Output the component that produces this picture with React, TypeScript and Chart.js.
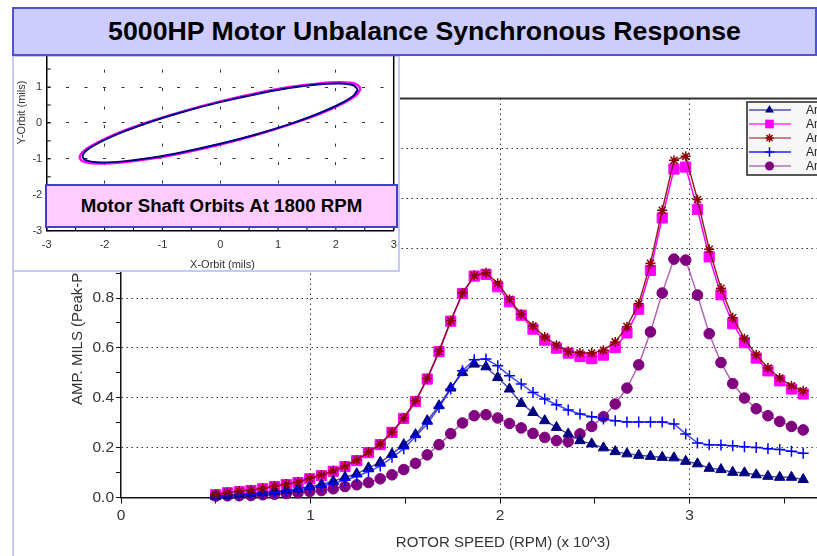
import React, { useEffect, useRef } from "react";
import { Chart, registerables } from "chart.js";

Chart.register(...registerables);

const FONT = "'Liberation Sans', Arial, Helvetica, sans-serif";

// ---- main chart data (rotor speed in x 10^3 RPM, amplitude in mils peak-peak)
const speedKrpm = [
  0.5, 0.562, 0.624, 0.686, 0.748, 0.81, 0.872, 0.934, 0.996, 1.058, 1.12, 1.182, 1.244,
  1.306, 1.368, 1.43, 1.492, 1.554, 1.616, 1.678, 1.74, 1.802, 1.864, 1.926, 1.988, 2.05,
  2.112, 2.174, 2.236, 2.298, 2.36, 2.422, 2.484, 2.546, 2.608, 2.67, 2.732, 2.794, 2.856,
  2.918, 2.98, 3.042, 3.104, 3.166, 3.228, 3.29, 3.352, 3.414, 3.476, 3.538, 3.6,
];

const ampTriangle = [
  0.005, 0.008, 0.012, 0.015, 0.019, 0.024, 0.029, 0.035, 0.044, 0.052, 0.065, 0.081, 0.095,
  0.119, 0.141, 0.174, 0.212, 0.252, 0.308, 0.368, 0.439, 0.501, 0.535, 0.524, 0.481, 0.435,
  0.377, 0.341, 0.308, 0.281, 0.255, 0.228, 0.215, 0.199, 0.184, 0.175, 0.169, 0.165, 0.161,
  0.159, 0.145, 0.135, 0.117, 0.112, 0.101, 0.099, 0.091, 0.085, 0.081, 0.081, 0.072,
];

const ampSquare = [
  0.011, 0.019, 0.024, 0.028, 0.035, 0.044, 0.052, 0.06, 0.075, 0.088, 0.105, 0.124, 0.148,
  0.18, 0.212, 0.261, 0.317, 0.385, 0.475, 0.585, 0.707, 0.818, 0.888, 0.895, 0.845, 0.785,
  0.731, 0.675, 0.631, 0.599, 0.579, 0.565, 0.557, 0.571, 0.601, 0.66, 0.755, 0.911, 1.121,
  1.317, 1.325, 1.155, 0.965, 0.813, 0.697, 0.621, 0.559, 0.508, 0.468, 0.435, 0.415,
];

const ampStar = [
  0.013, 0.021, 0.026, 0.03, 0.037, 0.046, 0.054, 0.062, 0.077, 0.09, 0.107, 0.126, 0.15,
  0.182, 0.214, 0.263, 0.319, 0.387, 0.477, 0.586, 0.709, 0.82, 0.89, 0.901, 0.859, 0.795,
  0.735, 0.688, 0.644, 0.611, 0.585, 0.579, 0.579, 0.59, 0.624, 0.685, 0.777, 0.939, 1.152,
  1.352, 1.368, 1.195, 0.995, 0.839, 0.721, 0.637, 0.572, 0.519, 0.479, 0.448, 0.428,
];

const ampCross = [
  0.004, 0.007, 0.01, 0.013, 0.016, 0.02, 0.025, 0.03, 0.038, 0.045, 0.056, 0.07, 0.084,
  0.104, 0.126, 0.161, 0.195, 0.245, 0.295, 0.361, 0.435, 0.508, 0.552, 0.555, 0.528, 0.488,
  0.455, 0.421, 0.395, 0.372, 0.351, 0.335, 0.324, 0.315, 0.308, 0.303, 0.303, 0.303, 0.303,
  0.295, 0.255, 0.219, 0.212, 0.211, 0.208, 0.204, 0.201, 0.195, 0.192, 0.185, 0.177,
];

const ampCircle = [
  0.006, 0.007, 0.007, 0.008, 0.011, 0.013, 0.016, 0.019, 0.024, 0.028, 0.035, 0.044, 0.051,
  0.06, 0.075, 0.091, 0.112, 0.137, 0.171, 0.212, 0.256, 0.299, 0.328, 0.332, 0.319, 0.297,
  0.279, 0.257, 0.241, 0.228, 0.224, 0.255, 0.285, 0.324, 0.375, 0.439, 0.532, 0.664, 0.82,
  0.956, 0.952, 0.812, 0.657, 0.541, 0.457, 0.399, 0.356, 0.328, 0.305, 0.285, 0.271,
];

const seriesLabels = [
  "Amp - Probe 1",
  "Amp - Probe 2",
  "Amp - Probe 3",
  "Amp - Probe 4",
  "Amp - Probe 5",
];

// ---- inset orbit data (mils)
const orbitNavyX = [
  2.38, 2.3, 2.06, 1.68, 1.19, 0.62, 0, -0.62, -1.19, -1.68, -2.06, -2.3, -2.38, -2.3, -2.06,
  -1.68, -1.19, -0.62, 0, 0.62, 1.19, 1.68, 2.06, 2.3, 2.38,
];
const orbitNavyY = [
  0.93, 1.05, 1.1, 1.07, 0.97, 0.8, 0.58, 0.32, 0.04, -0.25, -0.52, -0.75, -0.93, -1.05, -1.1,
  -1.07, -0.97, -0.8, -0.58, -0.32, -0.04, 0.25, 0.52, 0.75, 0.93,
];
const orbitMagentaX = [
  2.43, 2.35, 2.1, 1.72, 1.21, 0.63, 0, -0.63, -1.21, -1.72, -2.1, -2.35, -2.43, -2.35, -2.1,
  -1.72, -1.21, -0.63, 0, 0.63, 1.21, 1.72, 2.1, 2.35, 2.43,
];
const orbitMagentaY = [
  0.96, 1.08, 1.13, 1.1, 1.0, 0.83, 0.6, 0.33, 0.04, -0.25, -0.53, -0.77, -0.96, -1.08, -1.13,
  -1.1, -1.0, -0.83, -0.6, -0.33, -0.04, 0.25, 0.53, 0.77, 0.96,
];
const insetXTicks = [-3, -2, -1, 0, 1, 2, 3];

const chartTitle = "5000HP Motor Unbalance Synchronous Response";
const insetCaption = "Motor Shaft Orbits At 1800 RPM";
const xAxisTitle = "ROTOR SPEED (RPM) (x 10^3)";
const yAxisTitle = "AMP. MILS (Peak-Peak)";
const insetXTitle = "X-Orbit (mils)";
const insetYTitle = "Y-Orbit (mils)";

const seriesValues = [ampTriangle, ampSquare, ampStar, ampCross, ampCircle];

const seriesStyles = [
  { pointStyle: "triangle", radius: 6, marker: "#000080", line: "rgba(0,0,128,0.7)", legendLine: "#4858a0", order: 3, filled: true },
  { pointStyle: "rect", radius: 7.2, marker: "#ff00ff", line: "#ff00ff", legendLine: "#ff33ff", order: 5, filled: true },
  { pointStyle: "star", radius: 5, marker: "#8b0000", line: "rgba(128,0,0,0.85)", legendLine: "#b06060", order: 1, filled: false },
  { pointStyle: "cross", radius: 5.5, marker: "#0000ff", line: "rgba(0,0,255,0.7)", legendLine: "#2020ff", order: 2, filled: false },
  { pointStyle: "circle", radius: 5.3, marker: "#800080", line: "rgba(128,0,128,0.6)", legendLine: "#b070b8", order: 4, filled: true },
];

function drawMarker(ctx: CanvasRenderingContext2D, style: string, x: number, y: number, r: number, color: string) {
  ctx.save();
  ctx.fillStyle = color;
  ctx.strokeStyle = color;
  ctx.lineWidth = 1.5;
  ctx.beginPath();
  if (style === "triangle") {
    const a = (2 * Math.PI) / 3;
    ctx.moveTo(x, y - r);
    ctx.lineTo(x + Math.sin(a) * r, y - Math.cos(a) * r);
    ctx.lineTo(x + Math.sin(2 * a) * r, y - Math.cos(2 * a) * r);
    ctx.closePath();
    ctx.fill();
  } else if (style === "rect") {
    const s = r * Math.SQRT1_2;
    ctx.rect(x - s, y - s, 2 * s, 2 * s);
    ctx.fill();
  } else if (style === "circle") {
    ctx.arc(x, y, r, 0, Math.PI * 2);
    ctx.fill();
  } else if (style === "cross") {
    ctx.moveTo(x, y - r);
    ctx.lineTo(x, y + r);
    ctx.moveTo(x - r, y);
    ctx.lineTo(x + r, y);
    ctx.stroke();
  } else if (style === "star") {
    const d = r * Math.SQRT1_2;
    ctx.moveTo(x, y - r);
    ctx.lineTo(x, y + r);
    ctx.moveTo(x - r, y);
    ctx.lineTo(x + r, y);
    ctx.moveTo(x - d, y - d);
    ctx.lineTo(x + d, y + d);
    ctx.moveTo(x - d, y + d);
    ctx.lineTo(x + d, y - d);
    ctx.stroke();
  }
  ctx.restore();
}

const isEvenFifth = (v: number) => Math.round(v * 10) % 2 === 0;

const mainDecor = {
  id: "mainDecor",
  afterDraw(chart: any) {
    const { ctx, chartArea } = chart;
    ctx.save();
    // top frame line
    ctx.strokeStyle = "#333";
    ctx.lineWidth = 2;
    ctx.beginPath();
    ctx.moveTo(chartArea.left, chartArea.top);
    ctx.lineTo(chartArea.right, chartArea.top);
    ctx.stroke();

    // axis titles
    ctx.fillStyle = "#333";
    ctx.font = `15px ${FONT}`;
    ctx.textAlign = "center";
    ctx.textBaseline = "middle";
    ctx.fillText(xAxisTitle, 503, 543);
    ctx.save();
    ctx.translate(77.5, 405);
    ctx.rotate(-Math.PI / 2);
    ctx.textAlign = "left";
    ctx.fillText(yAxisTitle, 0, 0);
    ctx.restore();

    // legend
    const lx = 747;
    const ly = 102;
    ctx.fillStyle = "#f6f6f6";
    ctx.fillRect(lx, ly, 160, 73);
    ctx.strokeStyle = "#222";
    ctx.lineWidth = 1.5;
    ctx.strokeRect(lx, ly, 160, 73);
    seriesStyles.forEach((s, i) => {
      const y = 110 + i * 14;
      ctx.strokeStyle = s.legendLine;
      ctx.lineWidth = 1.5;
      ctx.beginPath();
      ctx.moveTo(749, y);
      ctx.lineTo(791, y);
      ctx.stroke();
      drawMarker(ctx, s.pointStyle, 769.5, y, s.radius * 0.85, s.marker);
      ctx.fillStyle = "#222";
      ctx.font = `12px ${FONT}`;
      ctx.textAlign = "left";
      ctx.textBaseline = "middle";
      ctx.fillText(seriesLabels[i], 806, y + 1);
    });
    ctx.restore();
  },
};

const insetDecor = {
  id: "insetDecor",
  afterDraw(chart: any) {
    const { ctx, chartArea, scales } = chart;
    ctx.save();
    ctx.strokeStyle = "#000";
    ctx.lineWidth = 1.5;
    ctx.beginPath();
    ctx.moveTo(chartArea.right, 0);
    ctx.lineTo(chartArea.right, chartArea.bottom);
    ctx.stroke();
    // inner tick marks every 0.5
    ctx.lineWidth = 1;
    ctx.beginPath();
    for (let v = -3; v <= 3.001; v += 0.5) {
      const px = scales.x.getPixelForValue(v);
      ctx.moveTo(px, chartArea.bottom);
      ctx.lineTo(px, chartArea.bottom - 4);
    }
    for (let v = -3; v <= 2.001; v += 0.5) {
      const py = scales.y.getPixelForValue(v);
      ctx.moveTo(chartArea.left, py);
      ctx.lineTo(chartArea.left + 4, py);
    }
    ctx.stroke();
    // x tick labels
    ctx.fillStyle = "#333";
    ctx.font = `11px ${FONT}`;
    ctx.textAlign = "center";
    ctx.textBaseline = "middle";
    insetXTicks.forEach((v) => {
      ctx.fillText(String(v), scales.x.getPixelForValue(v), chartArea.bottom + 14.5);
    });
    // axis titles
    ctx.fillText(insetXTitle, 208.5, 225);
    ctx.save();
    ctx.translate(8, 72.5);
    ctx.rotate(-Math.PI / 2);
    ctx.fillText(insetYTitle, 0, 0);
    ctx.restore();
    ctx.restore();
  },
};

export default function App() {
  const mainRef = useRef<HTMLCanvasElement>(null);
  const insetRef = useRef<HTMLCanvasElement>(null);

  useEffect(() => {
    const datasets = seriesStyles.map((s, i) => ({
      label: seriesLabels[i],
      data: speedKrpm.map((x, k) => ({ x, y: seriesValues[i][k] })),
      borderColor: s.line,
      backgroundColor: s.marker,
      borderWidth: 1.5,
      pointStyle: s.pointStyle as any,
      pointRadius: s.radius,
      pointBackgroundColor: s.marker,
      pointBorderColor: s.marker,
      pointBorderWidth: s.filled ? 1 : 1.5,
      tension: 0,
      order: s.order,
      clip: 10,
    }));

    const main = new Chart(mainRef.current as HTMLCanvasElement, {
      type: "line",
      data: { datasets },
      options: {
        animation: false,
        responsive: false,
        maintainAspectRatio: false,
        layout: { padding: { left: 0, top: 98.5, right: 21, bottom: 0 } },
        plugins: { legend: { display: false }, tooltip: { enabled: false }, title: { display: false } },
        scales: {
          x: {
            type: "linear",
            min: 0,
            max: 4,
            afterFit: (s: any) => {
              s.height = 58.5;
            },
            ticks: {
              stepSize: 0.5,
              autoSkip: false,
              maxRotation: 0,
              padding: 3,
              color: "#333",
              font: { family: FONT, size: 15.5 },
              callback: (v: any) => (Number.isInteger(Number(v)) ? String(v) : ""),
            },
            grid: {
              color: (c: any) => {
                const v = c.tick ? c.tick.value : 0;
                return Number.isInteger(v) && v !== 0 ? "#333" : "rgba(0,0,0,0)";
              },
              tickColor: "#111",
              tickLength: 6,
              lineWidth: 1,
            },
            border: { color: "#111", width: 1.5, dash: [1.5, 3.5] },
          },
          y: {
            type: "linear",
            min: 0,
            max: 1.6,
            afterFit: (s: any) => {
              s.width = 121;
            },
            ticks: {
              stepSize: 0.1,
              autoSkip: false,
              padding: 2,
              color: "#333",
              font: { family: FONT, size: 15.5 },
              callback: (v: any) => (isEvenFifth(Number(v)) ? Number(v).toFixed(1) : ""),
            },
            grid: {
              color: (c: any) => {
                const v = c.tick ? c.tick.value : 0;
                return isEvenFifth(v) && v > 0.05 && v < 1.55 ? "#333" : "rgba(0,0,0,0)";
              },
              tickColor: "#111",
              tickLength: 5,
              lineWidth: 1,
            },
            border: { color: "#111", width: 1.5, dash: [1.5, 3.5] },
          },
        },
      },
      plugins: [mainDecor],
    });

    const inset = new Chart(insetRef.current as HTMLCanvasElement, {
      type: "scatter",
      data: {
        datasets: [
          {
            label: "navy",
            data: orbitNavyX.map((x, k) => ({ x, y: orbitNavyY[k] })),
            showLine: true,
            borderColor: "#000080",
            borderWidth: 2,
            pointRadius: 0,
            tension: 0.35,
            order: 1,
          },
          {
            label: "magenta",
            data: orbitMagentaX.map((x, k) => ({ x, y: orbitMagentaY[k] })),
            showLine: true,
            borderColor: "#ff00ff",
            borderWidth: 2.5,
            pointRadius: 0,
            tension: 0.35,
            order: 2,
          },
        ],
      },
      options: {
        animation: false,
        responsive: false,
        maintainAspectRatio: false,
        layout: { padding: { left: 0, top: 8.6, right: 4.3, bottom: 0 } },
        plugins: { legend: { display: false }, tooltip: { enabled: false } },
        scales: {
          x: {
            type: "linear",
            min: -3,
            max: 3,
            afterFit: (s: any) => {
              s.height = 39.3;
            },
            ticks: {
              stepSize: 1,
              autoSkip: false,
              display: false,
            },
            grid: {
              drawTicks: false,
              color: (c: any) => {
                const v = c.tick ? c.tick.value : 0;
                return v > -2.5 && v < 2.5 ? "#333" : "rgba(0,0,0,0)";
              },
              lineWidth: 1,
            },
            border: { color: "#000", width: 1.5, dash: [3, 15.5] },
          },
          y: {
            type: "linear",
            min: -3,
            max: 2,
            afterFit: (s: any) => {
              s.width = 32.7;
            },
            ticks: {
              stepSize: 1,
              autoSkip: false,
              padding: 4.5,
              color: "#333",
              font: { family: FONT, size: 11 },
            },
            grid: {
              drawTicks: false,
              color: (c: any) => {
                const v = c.tick ? c.tick.value : 0;
                return v > -2.5 && v < 1.5 ? "#333" : "rgba(0,0,0,0)";
              },
              lineWidth: 1,
            },
            border: { color: "#000", width: 1.5, dash: [3, 15.5] },
          },
        },
      },
      plugins: [insetDecor],
    });

    return () => {
      main.destroy();
      inset.destroy();
    };
  }, []);

  return (
    <div
      style={{
        position: "absolute",
        left: 0,
        top: 0,
        width: 817,
        height: 556,
        overflow: "hidden",
        background: "#fff",
      }}
    >
      <canvas
        ref={mainRef}
        width={900}
        height={556}
        style={{ position: "absolute", left: 0, top: 0, width: 900, height: 556, display: "block" }}
      />
      <div style={{ position: "absolute", left: 12, top: 56, width: 2, height: 500, background: "#c8c8f4" }} />
      <div
        style={{
          position: "absolute",
          left: 12,
          top: 55,
          width: 388,
          height: 217,
          boxSizing: "border-box",
          border: "2px solid #c8c8f4",
          background: "#fff",
        }}
      />
      <canvas
        ref={insetRef}
        width={384}
        height={230}
        style={{ position: "absolute", left: 14, top: 40, width: 384, height: 230, display: "block" }}
      />
      <div
        style={{
          position: "absolute",
          left: 45,
          top: 184,
          width: 353,
          height: 44,
          boxSizing: "border-box",
          border: "2px solid #4040c8",
          background: "#ffccff",
          display: "flex",
          alignItems: "center",
          justifyContent: "center",
          fontFamily: FONT,
          fontWeight: "bold",
          fontSize: 18.7,
          color: "#000",
        }}
      >
        {insetCaption}
      </div>
      <div
        style={{
          position: "absolute",
          left: 12,
          top: 7,
          width: 805,
          height: 49,
          boxSizing: "border-box",
          border: "2px solid #5050d8",
          background: "#ccccff",
          display: "flex",
          alignItems: "center",
          justifyContent: "center",
          paddingLeft: 20,
          fontFamily: FONT,
          fontWeight: "bold",
          fontSize: 26.7,
          color: "#000",
          whiteSpace: "nowrap",
        }}
      >
        {chartTitle}
      </div>
    </div>
  );
}
